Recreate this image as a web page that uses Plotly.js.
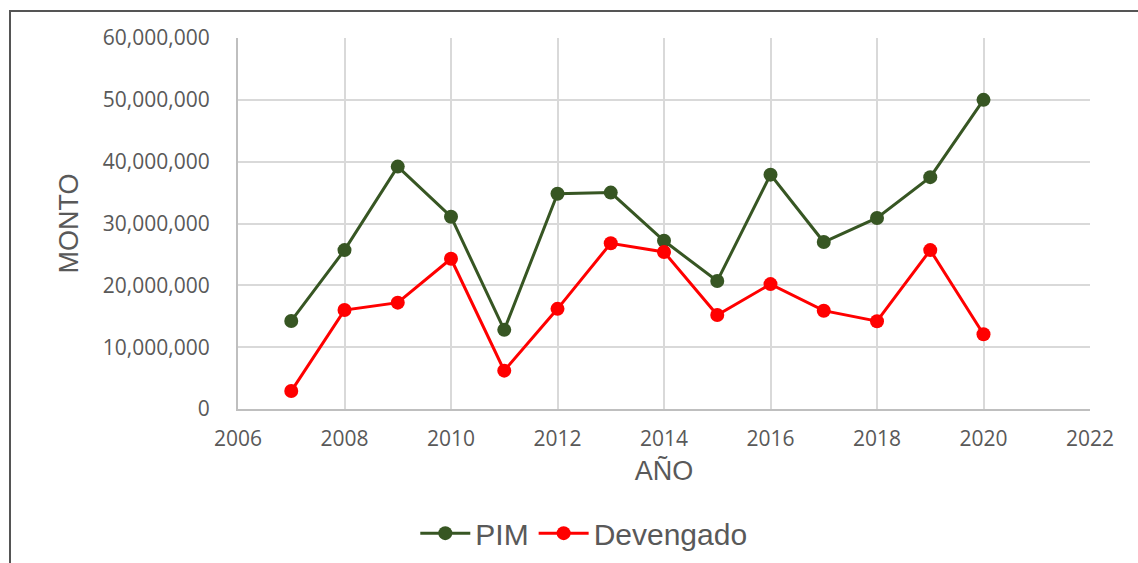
<!DOCTYPE html>
<html>
<head>
<meta charset="utf-8">
<script src="https://cdn.plot.ly/plotly-3.0.1.min.js"></script>
<style>
html,body{margin:0;padding:0;background:#fff;overflow:hidden;}
#chart{width:1138px;height:563px;}
#frame{position:absolute;left:9px;top:10px;width:2000px;height:2000px;border-left:2px solid #555;border-top:2px solid #555;pointer-events:none;}
</style>
</head>
<body>
<div id="chart"></div>
<div id="frame"></div>
<script>
const years = [2007,2008,2009,2010,2011,2012,2013,2014,2015,2016,2017,2018,2019,2020];
const pim = [14240000,25700000,39200000,31100000,12800000,34800000,35000000,27200000,20700000,37900000,27000000,30900000,37500000,50000000];
const devengado = [2900000,16000000,17200000,24300000,6200000,16200000,26800000,25400000,15200000,20200000,15900000,14200000,25700000,12100000];
const seriesNames = ["PIM","Devengado"];
const xTitle = "AÑO";
const yTitle = "MONTO";

const tickFont = {family:"Open Sans, sans-serif", size:21, color:"#595959"};
const titleFont = {family:"Liberation Sans, Arial, sans-serif", size:27, color:"#595959"};
const traces = [
  {x:years, y:pim, name:seriesNames[0], type:"scatter", mode:"lines+markers",
   line:{color:"#375623", width:3}, marker:{color:"#375623", size:14}},
  {x:years, y:devengado, name:seriesNames[1], type:"scatter", mode:"lines+markers",
   line:{color:"#ff0000", width:3}, marker:{color:"#ff0000", size:14}}
];
const layout = {
  width:1138, height:563,
  margin:{l:238, r:48, t:38, b:154},
  paper_bgcolor:"#fff", plot_bgcolor:"#fff",
  showlegend:true,
  legend:{orientation:"h", x:0.513, xref:"container", xanchor:"center", y:0.053, yref:"container", yanchor:"middle",
          itemwidth:50, entrywidth:0, tracegroupgap:0,
          font:{family:"Liberation Sans, Arial, sans-serif", size:30, color:"#595959"}},
  xaxis:{range:[2006,2022], dtick:2, tick0:2006, showgrid:true, gridcolor:"#d9d9d9", gridwidth:2,
         showline:true, linecolor:"#bfbfbf", linewidth:2, mirror:false, zeroline:false,
         ticks:"", tickfont:tickFont, ticklabelstandoff:10,
         title:{text:xTitle, standoff:10, font:titleFont}},
  yaxis:{range:[0,60000000], dtick:10000000, tickformat:",", showgrid:true, gridcolor:"#d9d9d9", gridwidth:2,
         showline:true, linecolor:"#bfbfbf", linewidth:2, zeroline:false,
         ticks:"", tickfont:tickFont, ticklabelstandoff:22,
         title:{text:yTitle, standoff:16, font:titleFont}}
};
Plotly.newPlot("chart", traces, layout, {displayModeBar:false, staticPlot:true});
</script>
</body>
</html>
